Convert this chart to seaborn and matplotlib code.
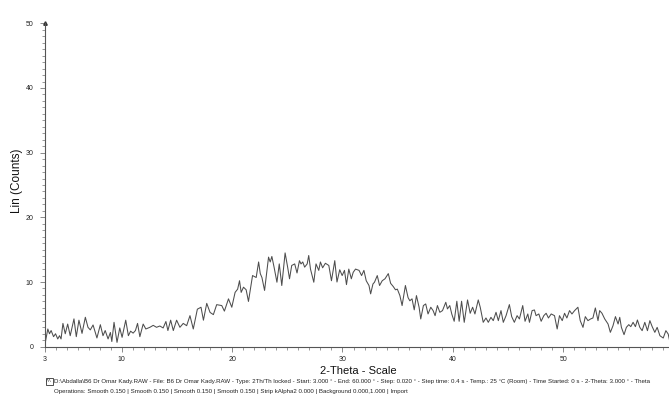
import matplotlib
matplotlib.use("Agg")
import matplotlib.pyplot as plt
import seaborn as sns
import pandas as pd
from matplotlib.ticker import MultipleLocator, FixedLocator
from matplotlib.patches import Rectangle

# ---------------- data ----------------
two_theta = [
    3.0, 3.3, 3.45, 3.6, 3.82, 4.0, 4.2, 4.36, 4.5, 4.67, 4.88, 5.1, 5.33, 5.67, 5.88,
    6.12, 6.4, 6.7, 6.94, 7.15, 7.4, 7.75, 8.06, 8.3, 8.5, 8.76, 8.97, 9.1, 9.3, 9.57,
    9.82, 10.03, 10.36, 10.6, 10.8, 11.03, 11.24, 11.43, 11.64, 11.94, 12.18, 12.55, 12.85,
    13.15, 13.45, 13.75, 14.0, 14.18, 14.43, 14.67, 14.97, 15.27, 15.57, 15.88, 16.18,
    16.48, 16.85, 17.18, 17.4, 17.7, 18.0, 18.3, 18.6, 19.06, 19.3, 19.67, 19.97, 20.27,
    20.5, 20.67,
    20.82, 21.03, 21.27, 21.48, 21.85, 22.18, 22.4, 22.55, 22.7, 22.94, 23.3, 23.45, 23.6,
    23.8, 24.06, 24.27, 24.5, 24.8, 25.03, 25.2, 25.4, 25.67, 25.88, 26.1, 26.24, 26.4,
    26.57, 26.8, 26.94, 27.1, 27.4, 27.6, 27.85, 28.0, 28.2, 28.45, 28.76, 29.0, 29.3,
    29.5, 29.75, 29.97, 30.18, 30.36, 30.57, 30.8, 30.97, 31.18, 31.5, 31.73, 31.94,
    32.15, 32.4, 32.55, 32.76, 32.9, 33.15, 33.36, 33.6, 33.85, 34.15, 34.36, 34.6, 34.8,
    34.97, 35.2, 35.4, 35.7, 35.94, 36.1, 36.3, 36.5, 36.7,
    36.94, 37.09, 37.33, 37.54, 37.75, 38.0, 38.21, 38.39, 38.6, 38.82, 39.06, 39.36,
    39.51, 39.72, 39.9, 40.12, 40.36, 40.57, 40.79, 41.03, 41.33, 41.57, 41.79, 42.0,
    42.3, 42.48, 42.75, 43.0, 43.21, 43.45, 43.66, 43.91, 44.12, 44.36, 44.57, 44.82,
    45.12, 45.33, 45.57, 45.82, 46.03, 46.33, 46.54, 46.79, 46.94, 47.18, 47.39, 47.54,
    47.79, 48.0, 48.24, 48.45, 48.66, 48.91, 49.21, 49.45, 49.66, 49.91, 50.12, 50.33,
    50.57, 50.79, 51.03, 51.33, 51.54, 51.79, 52.0, 52.24, 52.48, 52.69, 52.91, 53.15,
    53.3, 53.51, 53.76, 54.06, 54.27, 54.51, 54.73, 54.97, 55.12, 55.27, 55.51, 55.72,
    55.94, 56.12, 56.33, 56.54, 56.72, 56.94, 57.15, 57.39, 57.63, 57.85, 58.06, 58.3,
    58.51, 58.76, 59.06, 59.3, 59.51, 59.67, 60.0,
]
lin_counts = [
    0.0, 2.74, 2.0, 2.5, 1.55, 2.0, 1.2, 1.7, 1.2, 3.6, 2.0, 3.5, 1.7, 4.3, 1.55,
    4.1, 2.06, 4.55, 3.0, 2.6, 3.36, 1.35, 3.4, 1.7, 2.5, 1.2, 2.2, 0.8, 3.77, 0.67,
    2.9, 1.45, 4.1, 1.7, 2.4, 2.1, 2.5, 3.6, 1.55, 3.5, 2.74, 3.0, 3.3,
    3.0, 3.2, 2.9, 3.9, 2.5, 4.1, 2.5, 4.1, 3.0, 3.6, 3.25, 4.8,
    2.74, 5.8, 6.1, 4.1, 6.7, 5.3, 4.96, 6.5, 6.36, 5.5, 7.4, 6.1, 8.4,
    8.9, 10.2,
    8.4, 9.2, 8.8, 7.0, 11.0, 10.7, 13.1, 11.3, 10.7, 8.7, 13.85, 13.1, 13.95,
    12.3, 9.97, 12.8, 9.46, 14.5, 12.3, 10.5, 12.56, 12.8, 11.4, 13.3, 12.8, 13.1,
    12.3, 12.8, 14.1, 12.0, 9.97, 12.8, 11.8, 13.1, 12.2, 12.9, 12.56, 10.2, 13.3,
    10.0, 11.9, 11.0, 11.8, 9.6, 12.0, 10.5, 11.5, 12.0, 11.8, 11.0, 11.8,
    10.2, 9.46, 8.17, 9.7, 9.97, 11.0, 9.46, 10.2, 10.5, 11.3, 9.8, 9.3, 8.8,
    8.9, 7.9, 6.36, 9.46, 7.6, 7.1, 7.4, 5.7, 7.9,
    6.1, 4.29, 6.36, 6.61, 5.06, 6.1, 5.58, 4.8, 6.36, 5.32, 5.58, 6.87,
    5.84, 6.36, 5.06, 3.93, 7.03, 3.93, 7.03, 3.77, 7.23, 5.17, 6.1, 5.06,
    7.23, 6.1, 3.77, 4.44, 3.77, 4.54, 4.03, 5.32, 4.03, 5.58, 3.77, 4.8,
    6.51, 4.65, 3.77, 4.8, 4.29, 6.36, 3.93, 5.06, 3.77, 5.58, 5.68, 4.8,
    5.06, 3.93, 4.8, 5.17, 4.44, 5.06, 4.8, 2.74, 4.8, 4.03, 5.17, 4.44,
    5.58, 5.06, 5.58, 6.1, 4.03, 2.99, 4.65, 4.03, 4.29, 4.44, 5.99, 4.03,
    5.58, 5.17, 4.29, 3.51, 2.22, 3.25, 4.65, 3.51, 4.54, 2.99, 1.86, 2.99,
    3.41, 3.1, 3.77, 3.1, 4.13, 2.99, 2.48, 3.77, 2.48, 4.03, 3.1, 2.22,
    2.99, 1.7, 1.34, 2.48, 1.96, 0.67, 0.0,
]
x_major_ticks = [3, 10, 20, 30, 40, 50]
y_major_ticks = [0, 10, 20, 30, 40, 50]
x_label = "2-Theta - Scale"
y_label = "Lin (Counts)"
footer_line1 = ("D:\\Abdalla\\B6 Dr Omar Kady.RAW - File: B6 Dr Omar Kady.RAW - Type: 2Th/Th locked - "
                "Start: 3.000 \u00b0 - End: 60.000 \u00b0 - Step: 0.020 \u00b0 - Step time: 0.4 s - "
                "Temp.: 25 \u00b0C (Room) - Time Started: 0 s - 2-Theta: 3.000 \u00b0 - Theta")
footer_line2 = ("Operations: Smooth 0.150 | Smooth 0.150 | Smooth 0.150 | Smooth 0.150 | "
                "Strip kAlpha2 0.000 | Background 0.000,1.000 | Import")

df = pd.DataFrame({"two_theta": two_theta, "counts": lin_counts})

# ---------------- style ----------------
sns.set_style("white")
plt.rcParams["font.family"] = ["Liberation Sans", "DejaVu Sans"]

W, H = 669, 401
fig = plt.figure(figsize=(W / 100, H / 100), dpi=100)
left_px, right_px, top_px, bot_px = 44.5, 673.6, 23.3, 346.7
ax = fig.add_axes([left_px / W, 1 - bot_px / H, (right_px - left_px) / W, (bot_px - top_px) / H])

sns.lineplot(data=df, x="two_theta", y="counts", ax=ax, color="#4d4d4d",
             linewidth=0.75, sort=False, estimator=None)

ax.set_xlim(3, 60)
ax.set_ylim(0, 50)
ax.xaxis.set_major_locator(FixedLocator(x_major_ticks))
ax.xaxis.set_minor_locator(MultipleLocator(1))
ax.yaxis.set_major_locator(FixedLocator(y_major_ticks))
ax.yaxis.set_minor_locator(MultipleLocator(1))
ax.set_xlabel("")
ax.set_ylabel("")

for s in ["top", "right"]:
    ax.spines[s].set_visible(False)
for s in ["left", "bottom"]:
    ax.spines[s].set_color("#555555")
    ax.spines[s].set_linewidth(0.8)

ax.tick_params(which="major", direction="out", length=3.6, width=0.6, color="#777777",
               labelsize=5, labelcolor="#222222")
ax.tick_params(which="minor", direction="out", length=2.2, width=0.6, color="#888888")
ax.tick_params(axis="y", which="major", pad=4.3, left=True)
ax.tick_params(axis="y", which="minor", left=True)
ax.tick_params(axis="x", which="major", pad=2.9, bottom=True)
ax.tick_params(axis="x", which="minor", bottom=True)

# small arrow head at the top of the y axis
ax.plot([0], [1], marker="^", markersize=2.5, color="#333333", transform=ax.transAxes,
        clip_on=False)

# axis titles
fig.text(17 / W, 1 - 181 / H, y_label, rotation=90, ha="center", va="center",
         fontsize=8.5, color="#111111")
fig.text(358 / W, 1 - 371 / H, x_label, ha="center", va="center", fontsize=8,
         color="#111111")

# footer
fig.text(53.5 / W, 1 - 381 / H, footer_line1, ha="left", va="center", fontsize=4.45,
         color="#222222")
fig.text(54 / W, 1 - 391 / H, footer_line2, ha="left", va="center", fontsize=4.4,
         color="#222222")
icon = Rectangle((45.5 / W, 1 - 385 / H), 7 / W, 7.5 / H, transform=fig.transFigure,
                 fill=False, edgecolor="#333333", linewidth=0.6)
fig.patches.append(icon)
fig.text(49 / W, 1 - 381.5 / H, "\u039b\u039b", ha="center", va="center", fontsize=3.2,
         color="#333333")

fig.savefig("out.png", dpi=100, facecolor="white")
